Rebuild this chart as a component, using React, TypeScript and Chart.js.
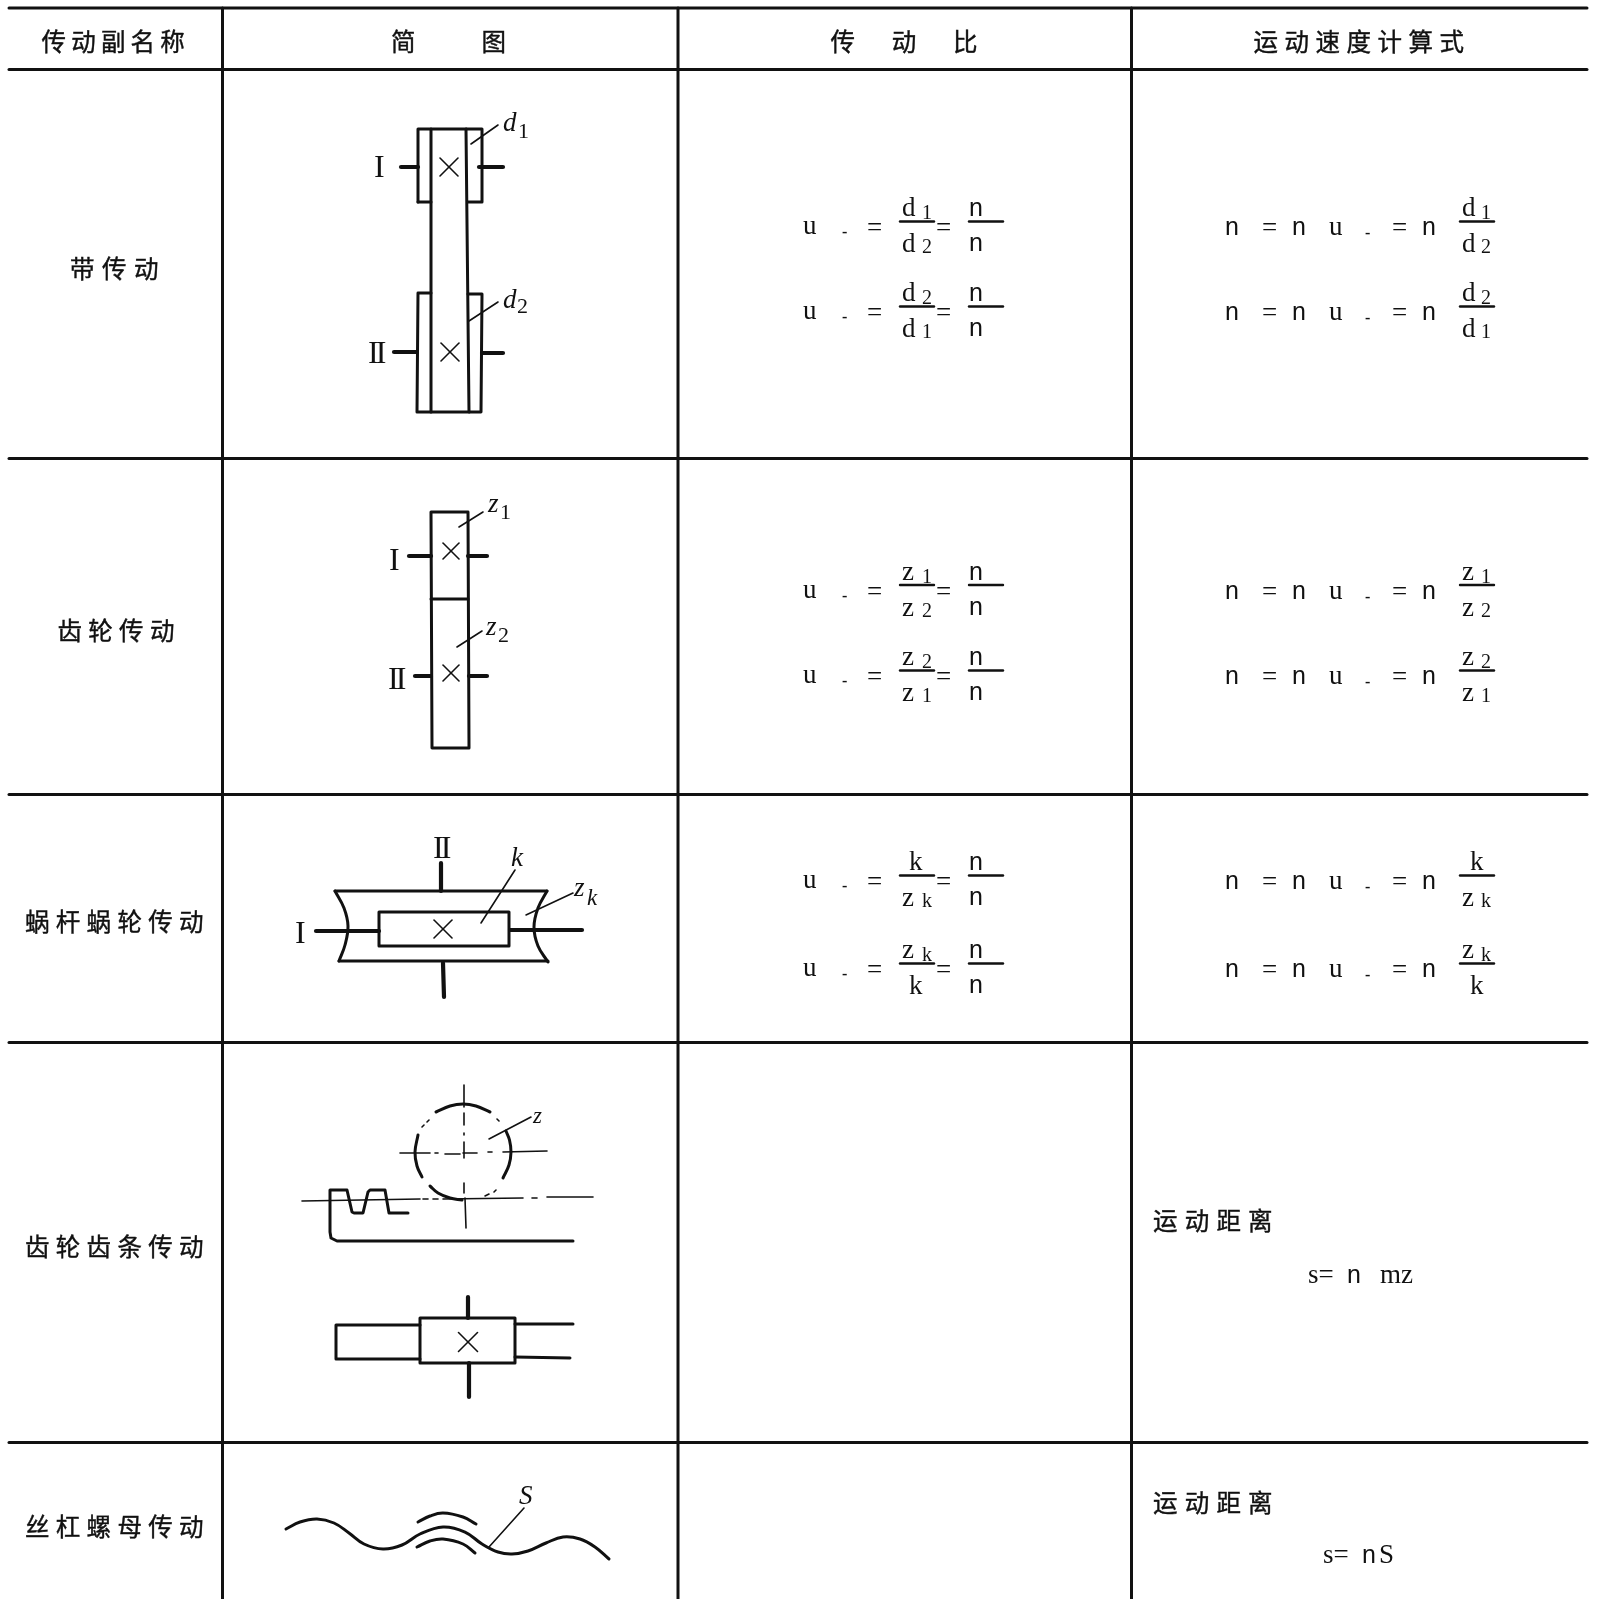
import React, { useEffect, useRef } from "react";
import { Chart, registerables } from "chart.js";

Chart.register(...registerables);

type P = [number, number];

const PAGE_W = 1597;
const PAGE_H = 1599;

// Table rules
const ruleRows = [8, 69.5, 458.5, 794.5, 1042.5, 1442.5];
const ruleCols = [222.5, 678, 1131.5];
const ruleLeft = 9;
const ruleRight = 1587;

// Heavy outlines of the diagrams
const outlines: P[][] = [
  // belt
  [[418, 202], [418, 129], [482, 129], [482, 202], [468, 202]],
  [[418, 202], [431, 202]],
  [[431, 129], [431, 412]],
  [[466, 129], [469, 412]],
  [[431, 293], [418, 293], [417, 412], [481, 412], [482, 294], [468, 294]],
  // gear
  [[431, 512], [468, 512], [469, 748], [432, 748], [431, 512]],
  [[431, 599], [468, 599]],
  // worm box
  [[335, 891], [547, 891]],
  [[339, 961], [548, 961]],
  [[379, 912], [509, 912], [509, 946], [379, 946], [379, 912]],
  // rack
  [[573, 1241], [337, 1241], [331, 1238], [330, 1232], [330, 1190], [347, 1190], [352, 1212], [354, 1213], [363, 1213], [368, 1192], [370, 1190], [385, 1190], [389, 1213], [408, 1213]],
  // rack top view
  [[420, 1318], [515, 1318], [515, 1363], [420, 1363], [420, 1318]],
  [[420, 1325], [336, 1325], [336, 1359], [420, 1359]],
  [[515, 1324], [573, 1324]],
  [[515, 1357], [570, 1358]],
];

// Shaft stubs
const shafts: P[][] = [
  [[401, 167], [418, 167]],
  [[479, 167], [503, 167]],
  [[394, 352], [416, 352]],
  [[482, 353], [503, 353]],
  [[409, 556], [431, 556]],
  [[468, 556], [487, 556]],
  [[415, 676], [431, 676]],
  [[469, 676], [487, 676]],
  [[316, 931], [379, 931]],
  [[510, 930], [582, 930]],
  [[441, 863], [441, 891]],
  [[443, 963], [444, 997]],
  [[468, 1297], [468, 1318]],
  [[469, 1363], [469, 1397]],
];

// Curved heavy strokes
const curves: P[][] = [
  [[335, 891], [344, 908], [348, 926], [345, 945], [339, 961]],
  [[547, 891], [538, 908], [534, 927], [538, 946], [548, 962]],
  [[436, 1112], [450, 1106], [463, 1104], [476, 1106], [490, 1112]],
  [[418, 1135], [415, 1152], [417, 1166], [422, 1177]],
  [[430, 1186], [438, 1193], [450, 1198], [462, 1200]],
  [[506, 1131], [509.5, 1140], [511, 1152], [509, 1165], [503, 1178]],
  [[286, 1529], [300, 1522], [317, 1519], [334, 1523], [349, 1533], [364, 1544], [383, 1549], [402, 1545], [420, 1534], [443, 1527], [465, 1532], [482, 1544], [498, 1552], [512, 1554], [528, 1551], [546, 1543], [563, 1537], [580, 1539], [595, 1547], [609, 1559]],
  [[418, 1522], [430, 1516], [443, 1513], [463, 1517], [476, 1524]],
  [[417, 1547], [430, 1541], [443, 1539], [463, 1544], [475, 1553]],
];

// Thin leaders, crosses and centre lines
const thinLines: P[][] = [
  [[471, 144], [498, 125]],
  [[469, 321], [498, 302]],
  [[459, 527], [483, 512]],
  [[457, 647], [482, 631]],
  [[481, 923], [515, 870]],
  [[526, 915], [573, 893]],
  [[489, 1139], [531, 1117]],
  [[489, 1547], [524, 1508]],
  [[440, 158], [458, 176]], [[440, 176], [458, 158]],
  [[441, 343], [459, 361]], [[441, 361], [459, 343]],
  [[443, 543], [459, 559]], [[443, 559], [459, 543]],
  [[443, 665], [459, 681]], [[443, 681], [459, 665]],
  [[434, 920], [452, 938]], [[434, 938], [452, 920]],
  [[458.5, 1332.5], [477.5, 1351.5]], [[458.5, 1351.5], [477.5, 1332.5]],
  // circle centre lines and pitch line
  [[464, 1085], [464, 1107]], [[464, 1113], [464, 1125]], [[464, 1133], [464, 1135]], [[464, 1142], [464, 1158]],
  [[464, 1183], [464, 1193]], [[465, 1198], [466, 1228]],
  [[400, 1153], [430, 1153]], [[435, 1153], [438, 1153]], [[445, 1154], [460, 1154]],
  [[463, 1153], [477, 1153]], [[488, 1152], [492, 1152]], [[503, 1152], [547, 1151]],
  [[302, 1201], [420, 1199]], [[423, 1199], [428, 1199]], [[433, 1199], [438, 1199]],
  [[443, 1199], [523, 1198]], [[532, 1198], [537, 1198]], [[547, 1197], [593, 1197]],
  // dots of the dash-dot circle
  [[422, 1127], [424, 1125]], [[427, 1122], [429, 1120]], [[497, 1119], [499, 1121]],
  [[494, 1192], [496, 1190]], [[485, 1196], [489, 1194]],
];

// Chinese captions: text, first glyph x, centre y, glyph pitch
const captionTexts = ["传动副名称", "简图", "传动比", "运动速度计算式", "带传动", "齿轮传动", "蜗杆蜗轮传动", "齿轮齿条传动", "丝杠螺母传动", "运动距离", "运动距离"];
const captionX = [41.5, 391, 830.5, 1253.5, 70, 57.5, 25, 25, 25, 1153, 1153];
const captionY = [42, 42, 42, 42, 269, 631, 922, 1247, 1527, 1221, 1503];
const captionPitch = [29.7, 90.5, 61.2, 31, 32, 30.8, 30.8, 30.8, 30.8, 31.7, 31.7];

// Formula rows: baseline of each line, numerator and denominator symbols with subscripts
const formulaBase = [234, 319, 597.5, 683, 888, 976];
const numSymbols = ["d", "d", "z", "z", "k", "z"];
const numSubs = ["1", "2", "1", "2", "", "k"];
const denSymbols = ["d", "d", "z", "z", "z", "k"];
const denSubs = ["2", "1", "2", "1", "k", ""];

// Free labels: text, x, baseline, style
const diagramLabels: [string, number, number, string][] = [
  ["I", 374, 177, "roman"],
  ["II", 368, 363, "roman"],
  ["d", 503, 131, "italic"],
  ["1", 518, 138, "sub2"],
  ["d", 503, 308, "italic"],
  ["2", 517, 313, "sub2"],
  ["I", 389, 570, "roman"],
  ["II", 388, 689, "roman"],
  ["z", 488, 512, "italic"],
  ["1", 500, 519, "sub2"],
  ["z", 486, 635, "italic"],
  ["2", 498, 642, "sub2"],
  ["I", 295, 943, "roman"],
  ["II", 433, 858, "roman"],
  ["k", 511, 866, "italic"],
  ["z", 574, 896, "italic"],
  ["k", 587, 905, "italic-sm"],
  ["z", 533, 1123, "italic-sm"],
  ["S", 519, 1504, "italic"],
  ["s=", 1308, 1283, "serif"],
  ["n", 1347, 1283, "sans"],
  ["mz", 1380, 1283, "serif"],
  ["s=", 1323, 1563, "serif"],
  ["n", 1362, 1563, "sans"],
  ["S", 1379, 1563, "serif"],
];

const INK = "#111111";
const FONTS: Record<string, string> = {
  serif: '27px "Liberation Serif"',
  sans: '25px "Liberation Sans"',
  sub: '20px "Liberation Serif"',
  sub2: '22px "Liberation Serif"',
  small: 'bold 16px "Liberation Serif"',
  roman: '32px "Liberation Serif"',
  italic: 'italic 27px "Liberation Serif"',
  "italic-sm": 'italic 23px "Liberation Serif"',
  cjk: '24.5px "Noto Sans CJK SC"',
};

function lineSet(points: P[], width: number, tension = 0) {
  return {
    data: points.map(([x, y]) => ({ x, y })),
    showLine: true,
    borderColor: INK,
    borderWidth: width,
    pointRadius: 0,
    tension,
    borderCapStyle: "round" as const,
    borderJoinStyle: "round" as const,
    fill: false,
    clip: false as const,
  };
}

function formulaTexts() {
  const out: [string, number, number, string][] = [];
  formulaBase.forEach((b, i) => {
    const numKx = numSymbols[i] === "k";
    const denKx = denSymbols[i] === "k";
    // Ratio column
    out.push(["u", 803, b, "serif"], ["-", 842, b + 3, "small"], ["=", 867, b + 2, "serif"]);
    out.push([numSymbols[i], numKx ? 909 : 902, b - 18, "serif"]);
    if (numSubs[i]) out.push([numSubs[i], 922, b - 15, "sub"]);
    out.push([denSymbols[i], denKx ? 909 : 902, b + 18, "serif"]);
    if (denSubs[i]) out.push([denSubs[i], 922, b + 19, "sub"]);
    out.push(["=", 936, b + 2, "serif"], ["n", 969, b - 18, "sans"], ["n", 969, b + 17, "sans"]);
    // Speed column
    out.push(["n", 1225, b + 1, "sans"], ["=", 1262, b + 2, "serif"], ["n", 1292, b + 1, "sans"]);
    out.push(["u", 1329, b + 1, "serif"], ["-", 1365, b + 4, "small"], ["=", 1392, b + 2, "serif"], ["n", 1422, b + 1, "sans"]);
    out.push([numSymbols[i], numKx ? 1470 : 1462, b - 18, "serif"]);
    if (numSubs[i]) out.push([numSubs[i], 1481, b - 15, "sub"]);
    out.push([denSymbols[i], denKx ? 1470 : 1462, b + 18, "serif"]);
    if (denSubs[i]) out.push([denSubs[i], 1481, b + 19, "sub"]);
  });
  return out;
}

const textPlugin = {
  id: "tableText",
  afterDatasetsDraw(chart: any) {
    const { ctx, scales } = chart;
    const px = (v: number) => scales.x.getPixelForValue(v);
    const py = (v: number) => scales.y.getPixelForValue(v);
    ctx.save();
    ctx.fillStyle = INK;
    ctx.strokeStyle = INK;
    ctx.textAlign = "left";
    ctx.textBaseline = "alphabetic";
    [...diagramLabels, ...formulaTexts()].forEach(([t, x, y, style]) => {
      ctx.font = FONTS[style];
      ctx.letterSpacing = t === "II" ? "-3px" : "0px";
      ctx.fillText(t, px(x), py(y));
    });
    ctx.letterSpacing = "0px";
    ctx.font = FONTS.cjk;
    ctx.textBaseline = "middle";
    ctx.lineWidth = 0.4;
    captionTexts.forEach((t, i) => {
      Array.from(t).forEach((ch, j) => {
        const x = px(captionX[i] + j * captionPitch[i]);
        const y = py(captionY[i]);
        ctx.fillText(ch, x, y);
        ctx.strokeText(ch, x, y);
      });
    });
    ctx.restore();
  },
};

export default function App() {
  const ref = useRef<HTMLCanvasElement>(null);
  useEffect(() => {
    if (!ref.current) return;
    const ratioBarY = formulaBase.map((b) => b - 12.5);
    const datasets: any[] = [
      ...ruleRows.map((y) => lineSet([[ruleLeft, y], [ruleRight, y]], 3)),
      ...ruleCols.map((x) => lineSet([[x, ruleRows[0]], [x, PAGE_H + 4]], 3)),
      ...outlines.map((p) => lineSet(p, 3)),
      ...shafts.map((p) => lineSet(p, 4.2)),
      ...curves.map((p) => lineSet(p, 3, 0.4)),
      ...thinLines.map((p) => lineSet(p, 1.6)),
      ...ratioBarY.flatMap((y) => [
        lineSet([[900, y], [934, y]], 2.4),
        lineSet([[969, y], [1003, y]], 2.4),
        lineSet([[1460, y], [1494, y]], 2.4),
      ]),
    ];
    const chart = new Chart(ref.current, {
      type: "scatter",
      data: { datasets },
      options: {
        animation: false,
        responsive: false,
        events: [],
        layout: { padding: 0 },
        plugins: { legend: { display: false }, tooltip: { enabled: false }, title: { display: false } },
        scales: {
          x: { type: "linear", min: 0, max: PAGE_W, display: false },
          y: { type: "linear", min: 0, max: PAGE_H, reverse: true, display: false },
        },
      },
      plugins: [textPlugin],
    });
    return () => chart.destroy();
  }, []);
  return (
    <canvas
      ref={ref}
      width={PAGE_W}
      height={PAGE_H}
      style={{ position: "absolute", left: 0, top: 0, display: "block", background: "#fff" }}
    />
  );
}
